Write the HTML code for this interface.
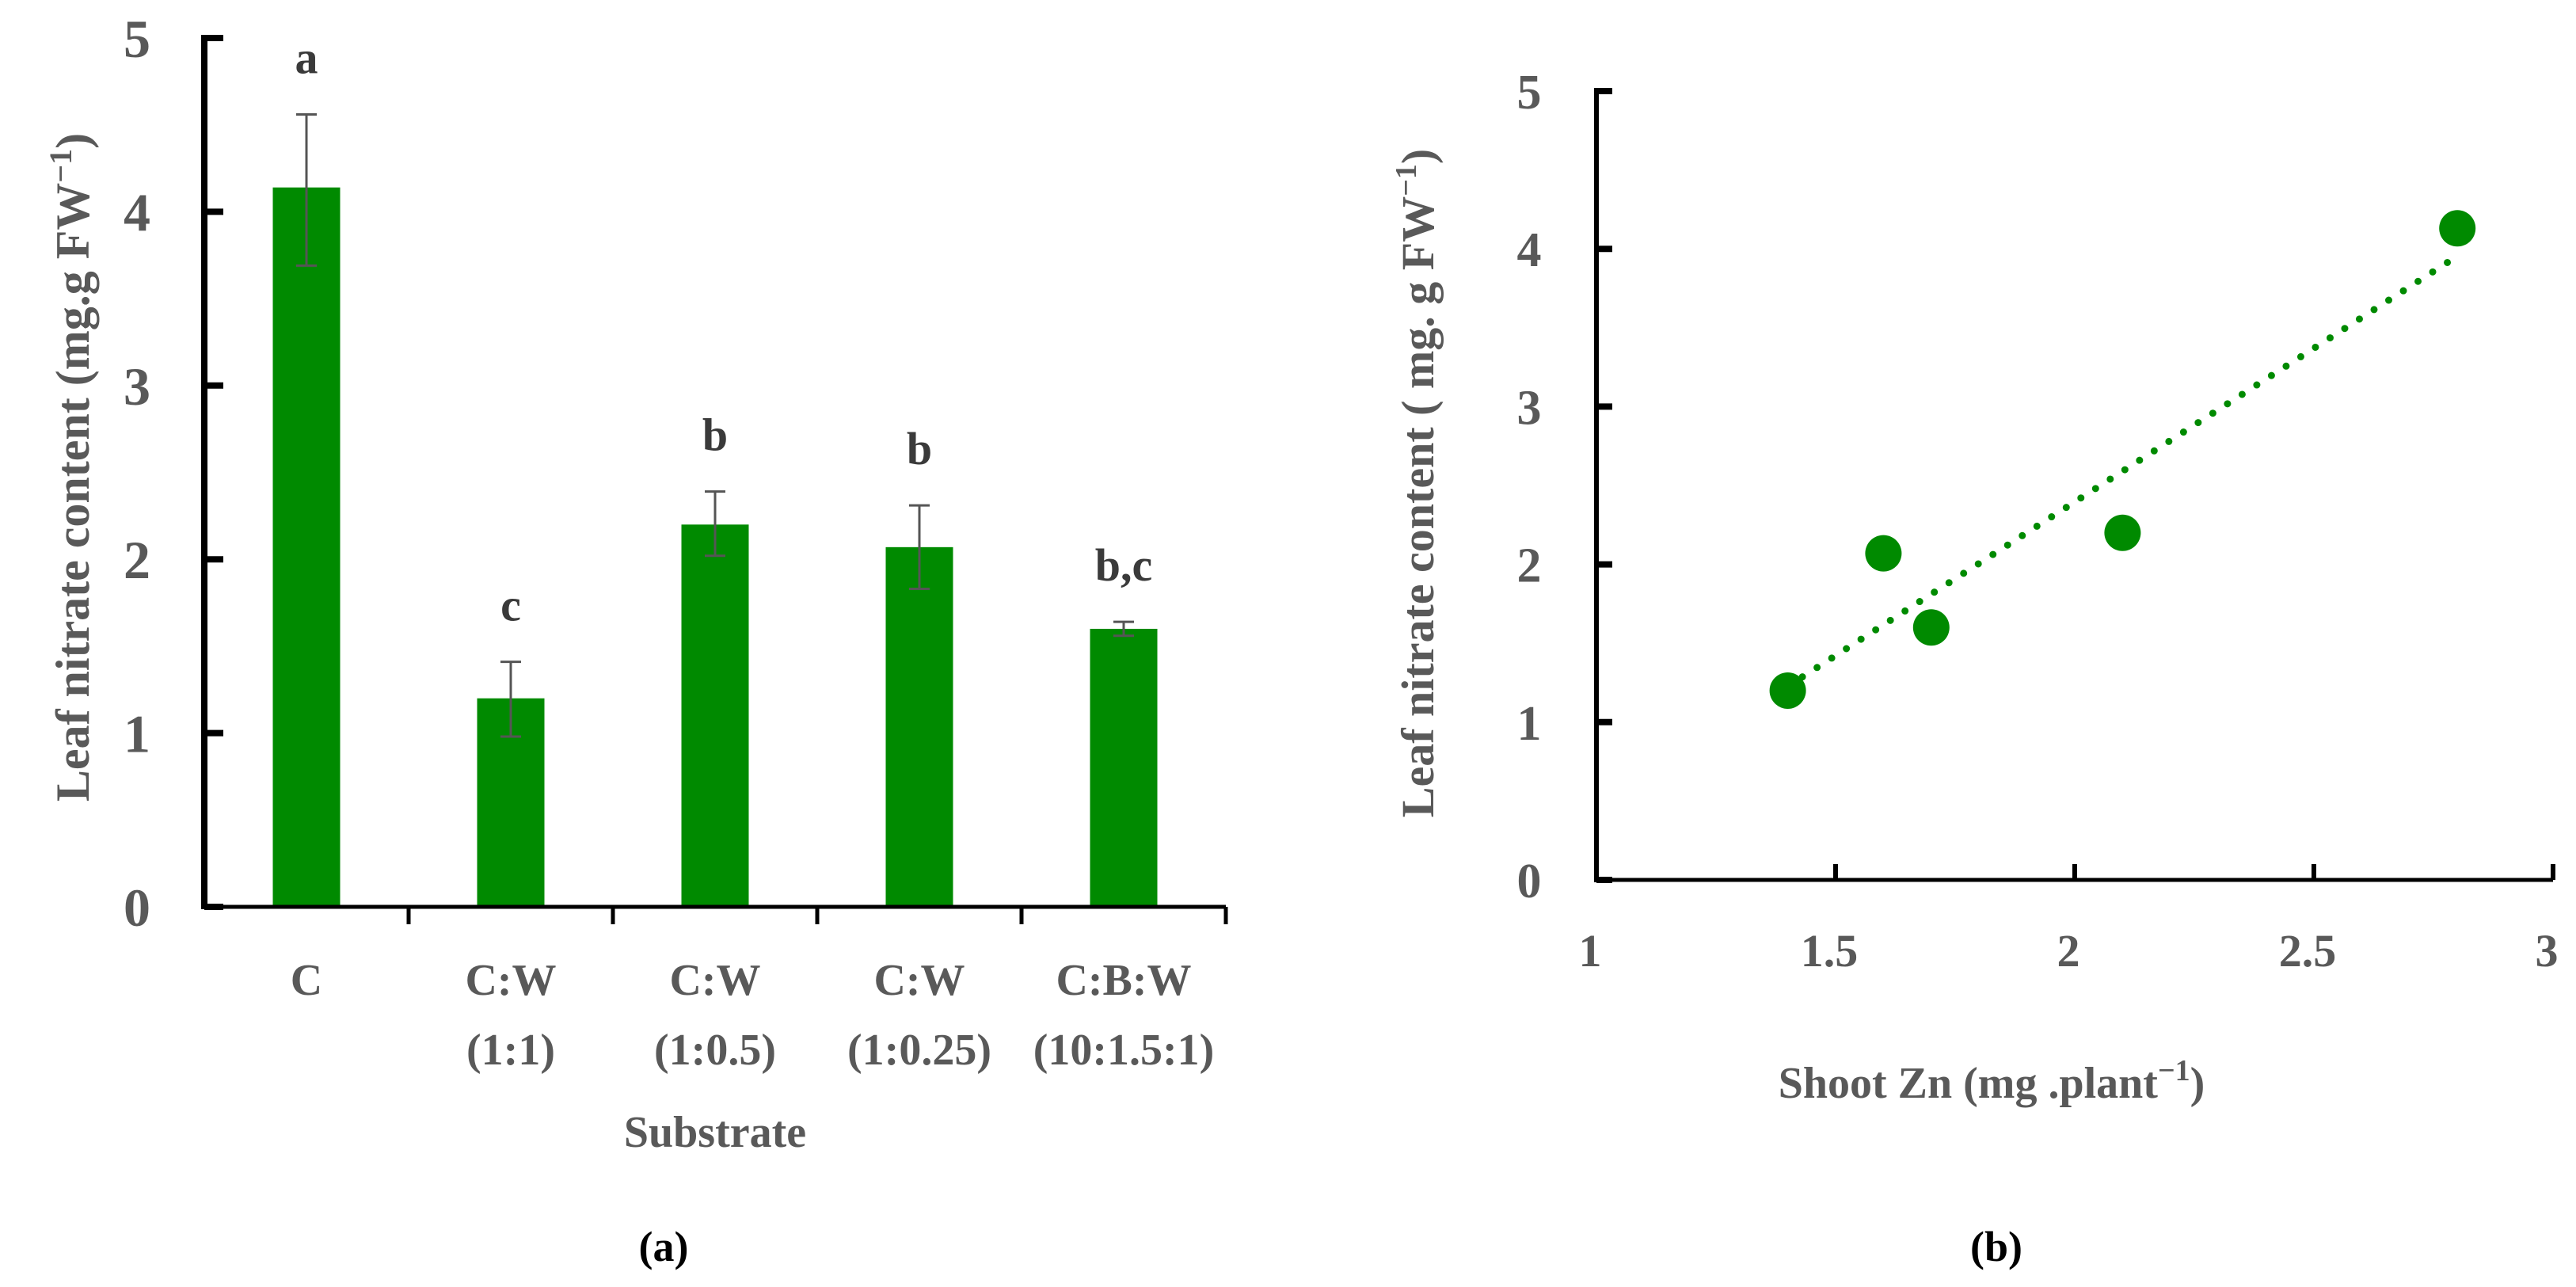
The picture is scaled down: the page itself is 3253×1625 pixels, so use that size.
<!DOCTYPE html>
<html><head><meta charset="utf-8"><style>
html,body{margin:0;padding:0;background:#fff;}
svg{display:block;font-family:"Liberation Serif",serif;font-weight:bold;}
</style></head><body>
<svg id="chart" width="3253" height="1625" viewBox="0 0 3253 1625" xmlns="http://www.w3.org/2000/svg"></svg>
<script>
const categories = ["C", "C:W|(1:1)", "C:W|(1:0.5)", "C:W|(1:0.25)", "C:B:W|(10:1.5:1)"];
const barValues = [4.14, 1.2, 2.2, 2.07, 1.6];
const errLow = [3.69, 0.98, 2.02, 1.83, 1.56];
const errHigh = [4.56, 1.41, 2.39, 2.31, 1.64];
const letters = ["a", "c", "b", "b", "b,c"];
const yTicks = [0, 1, 2, 3, 4, 5];
const zn = [1.4, 1.6, 1.7, 2.1, 2.8];
const nitrate = [1.2, 2.07, 1.6, 2.2, 4.13];
const xTicksB = [1, 1.5, 2, 2.5, 3];

const NS = "http://www.w3.org/2000/svg";
const svg = document.getElementById("chart");
function mk(tag, attrs, parent) {
  const e = document.createElementNS(NS, tag);
  for (const k in attrs) e.setAttribute(k, attrs[k]);
  (parent || svg).appendChild(e);
  return e;
}
const GRAY = "#595959", GREEN = "#008a00";

// ---- Chart A ----
const A = {x0: 258, x1: 1548, y0: 1145, yTop: 48};
const yA = v => A.y0 - (A.y0 - A.yTop) * v / 5;
const bandA = (A.x1 - A.x0) / categories.length;
const xA = i => A.x0 + bandA * (i + 0.5);
const gA = mk("g", {});


yTicks.forEach(t => {
  const tk = mk("line", {x1: A.x0, x2: A.x0 + 24, y1: yA(t), y2: yA(t), stroke: "#000", "stroke-width": 8}, gA);
  
  
  const tl = mk("text", {x: 173, y: yA(t) + 24, "text-anchor": "middle", "font-size": 68, fill: GRAY}, gA);
  tl.textContent = t;
  
  
});
categories.forEach((c, i) => {
  const bx = xA(i);
  const bar = mk("rect", {x: bx - 42.5, y: yA(barValues[i]), width: 85, height: A.y0 - yA(barValues[i]), fill: GREEN}, gA);
  
  
  const eb = mk("path", {d: `M${bx} ${yA(errHigh[i])}V${yA(errLow[i])}M${bx-13} ${yA(errHigh[i])}h26M${bx-13} ${yA(errLow[i])}h26`, stroke: "#555", "stroke-width": 3, fill: "none"}, gA);
  
  
  const lt = mk("text", {x: bx, y: yA(errHigh[i]) - 52, "text-anchor": "middle", "font-size": 58, fill: "#3a3a3a"}, gA);
  lt.textContent = letters[i];
  
  
  const ct = mk("line", {x1: A.x0 + bandA * (i + 1), x2: A.x0 + bandA * (i + 1), y1: A.y0, y2: A.y0 + 22, stroke: "#000", "stroke-width": 5}, gA);
  
  
  c.split("|").forEach((ln, j) => {
    const t = mk("text", {x: bx, y: 1256 + j * 88, "text-anchor": "middle", "font-size": 56, fill: GRAY}, gA);
    t.textContent = ln;
    
    
  });
});
mk("line", {x1: A.x0, x2: A.x0, y1: A.yTop - 4, y2: A.y0 + 3, stroke: "#000", "stroke-width": 8}, gA);
mk("line", {x1: A.x0, x2: A.x1, y1: A.y0, y2: A.y0, stroke: "#000", "stroke-width": 5}, gA);
let t = mk("text", {x: 903, y: 1448, "text-anchor": "middle", "font-size": 56, fill: GRAY}, gA);
t.textContent = "Substrate";


t = mk("text", {x: 0, y: 0, "text-anchor": "middle", "font-size": 60, fill: GRAY, transform: "translate(112,590) rotate(-90)"}, gA);
t.innerHTML = 'Leaf nitrate content (mg.g FW<tspan dy="-22" font-size="40">−1</tspan><tspan dy="22">)</tspan>';


t = mk("text", {x: 838, y: 1592, "text-anchor": "middle", "font-size": 54, fill: "#000"}, gA);
t.textContent = "(a)";



// ---- Chart B ----
const B = {x0: 2016, x1: 3224, y0: 1111, yTop: 115, xMin: 1, xMax: 3};
const xB = v => B.x0 + (B.x1 - B.x0) * (v - B.xMin) / (B.xMax - B.xMin);
const yB = v => B.y0 - (B.y0 - B.yTop) * v / 5;
const gB = mk("g", {});


yTicks.forEach(v => {
  const tk = mk("line", {x1: B.x0, x2: B.x0 + 20, y1: yB(v), y2: yB(v), stroke: "#000", "stroke-width": 8}, gB);
  
  
  const tl = mk("text", {x: 1931, y: yB(v) + 22, "text-anchor": "middle", "font-size": 62, fill: GRAY}, gB);
  tl.textContent = v;
  
  
});
xTicksB.forEach(v => {
  const tk = mk("line", {x1: xB(v), x2: xB(v), y1: B.y0, y2: B.y0 - 20, stroke: "#000", "stroke-width": 6}, gB);
  
  
  const tl = mk("text", {x: xB(v) - 8, y: 1220, "text-anchor": "middle", "font-size": 58, fill: GRAY}, gB);
  tl.textContent = v;
  
  
});
mk("line", {x1: B.x0, x2: B.x0, y1: B.yTop - 4, y2: B.y0 + 3, stroke: "#000", "stroke-width": 6}, gB);
mk("line", {x1: B.x0, x2: B.x1, y1: B.y0, y2: B.y0, stroke: "#000", "stroke-width": 5}, gB);
// regression
const n = zn.length;
const mx = zn.reduce((a, b) => a + b, 0) / n, my = nitrate.reduce((a, b) => a + b, 0) / n;
let sxx = 0, sxy = 0;
for (let i = 0; i < n; i++) { sxx += (zn[i] - mx) ** 2; sxy += (zn[i] - mx) * (nitrate[i] - my); }
const slope = sxy / sxx, icpt = my - slope * mx;
const xlo = Math.min(...zn), xhi = Math.max(...zn);
const tr = mk("line", {x1: xB(xlo), y1: yB(icpt + slope * xlo), x2: xB(xhi), y2: yB(icpt + slope * xhi), stroke: GREEN, "stroke-width": 9, "stroke-linecap": "round", "stroke-dasharray": "0 22"}, gB);


zn.forEach((v, i) => {
  const c = mk("circle", {cx: xB(v), cy: yB(nitrate[i]), r: 23, fill: GREEN}, gB);
  
  
});
t = mk("text", {x: 2515, y: 1386, "text-anchor": "middle", "font-size": 56, fill: GRAY}, gB);
t.innerHTML = 'Shoot Zn (mg .plant<tspan dy="-22" font-size="38">−1</tspan><tspan dy="22">)</tspan>';


t = mk("text", {x: 0, y: 0, "text-anchor": "middle", "font-size": 58, fill: GRAY, transform: "translate(1810,610) rotate(-90)"}, gB);
t.innerHTML = 'Leaf nitrate content ( mg. g FW<tspan dy="-22" font-size="38">−1</tspan><tspan dy="22">)</tspan>';


t = mk("text", {x: 2521, y: 1592, "text-anchor": "middle", "font-size": 54, fill: "#000"}, gB);
t.textContent = "(b)";


</script>
</body></html>
